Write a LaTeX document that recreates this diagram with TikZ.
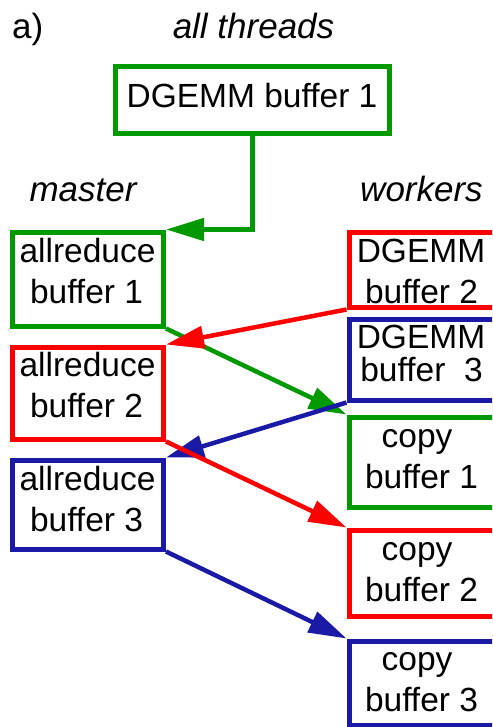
\documentclass[tikz,border=0pt]{standalone}
\usepackage{fontspec}
\setmainfont{Liberation Sans}
\usetikzlibrary{arrows.meta}
\definecolor{cgreen}{RGB}{0,153,0}
\definecolor{cred}{RGB}{255,0,0}
\definecolor{cblue}{RGB}{26,26,166}
\begin{document}
\begin{tikzpicture}[x=1pt,y=-1pt,
  buf/.style={draw=#1, line width=5pt, rectangle, inner sep=0pt, fill=white},
  lbl/.style={anchor=base, inner sep=0pt, font=\fontsize{33.5}{40}\selectfont},
  head/.style={anchor=base, inner sep=0pt, font=\fontsize{35}{42}\selectfont\itshape},
  flow/.style={draw=#1, line width=4.5pt,
    -{Triangle[length=38pt,width=22pt]}},
]
\useasboundingbox (0,0) rectangle (492,727);
\clip (0,0) rectangle (492,727);

% headings
\node[head, font=\fontsize{35}{42}\selectfont, anchor=base west] (tag) at (12,39) {a)};
\node[head] (hall) at (253.5,39) {all threads};
\node[head] (hmaster) at (83,202) {master};
\node[head] (hworkers) at (421.5,202) {workers};

% buffers
\node[buf=cgreen, minimum width=274pt, minimum height=67pt] (top) at (252.5,100) {};
\node[buf=cgreen, minimum width=151pt, minimum height=94pt] (ar1) at (88,279) {};
\node[buf=cred,   minimum width=151pt, minimum height=92pt] (ar2) at (88,393) {};
\node[buf=cblue,  minimum width=151pt, minimum height=89pt] (ar3) at (88,504.5) {};
\node[buf=cred,   minimum width=146pt, minimum height=75pt] (dg2) at (422,269.5) {};
\node[buf=cblue,  minimum width=146pt, minimum height=81pt] (dg3) at (422,359.5) {};
\node[buf=cgreen, minimum width=146pt, minimum height=90pt] (cb1) at (422,462) {};
\node[buf=cred,   minimum width=146pt, minimum height=86pt] (cb2) at (422,573) {};
\node[buf=cblue,  minimum width=146pt, minimum height=84pt] (cb3) at (422,683) {};

% buffer texts
\node[lbl] (ttop) at (252,108) {DGEMM buffer 1};
\node[lbl] (tar1a) at (87.5,262) {allreduce};
\node[lbl] (tar1b) at (86.5,303) {buffer 1};
\node[lbl] (tar2a) at (87.5,376) {allreduce};
\node[lbl] (tar2b) at (86.5,417) {buffer 2};
\node[lbl] (tar3a) at (87.5,490) {allreduce};
\node[lbl] (tar3b) at (86.5,531.5) {buffer 3};
\node[lbl] (tdg2a) at (421,262) {DGEMM};
\node[lbl] (tdg2b) at (421.5,303) {buffer 2};
\node[lbl] (tdg3a) at (421,348) {DGEMM};
\node[lbl] (tdg3b) at (421.5,381) {buffer\ \ 3};
\node[lbl] (tcb1a) at (417,447) {copy};
\node[lbl] (tcb1b) at (421.5,488) {buffer 1};
\node[lbl] (tcb2a) at (417,560) {copy};
\node[lbl] (tcb2b) at (421.5,601.5) {buffer 2};
\node[lbl] (tcb3a) at (417,670) {copy};
\node[lbl] (tcb3b) at (421.5,711.5) {buffer 3};

% data flow
\draw[flow=cgreen] (top.south) |- (ar1.north east);
\draw[flow=cgreen] (ar1.south east) -- (cb1.north west);
\draw[flow=cred]   (dg2.south west) -- (ar2.north east);
\draw[flow=cblue]  (dg3.south west) -- (ar3.north east);
\draw[flow=cred]   (ar2.south east) -- (cb2.north west);
\draw[flow=cblue]  (ar3.south east) -- (cb3.north west);
\end{tikzpicture}
\end{document}
